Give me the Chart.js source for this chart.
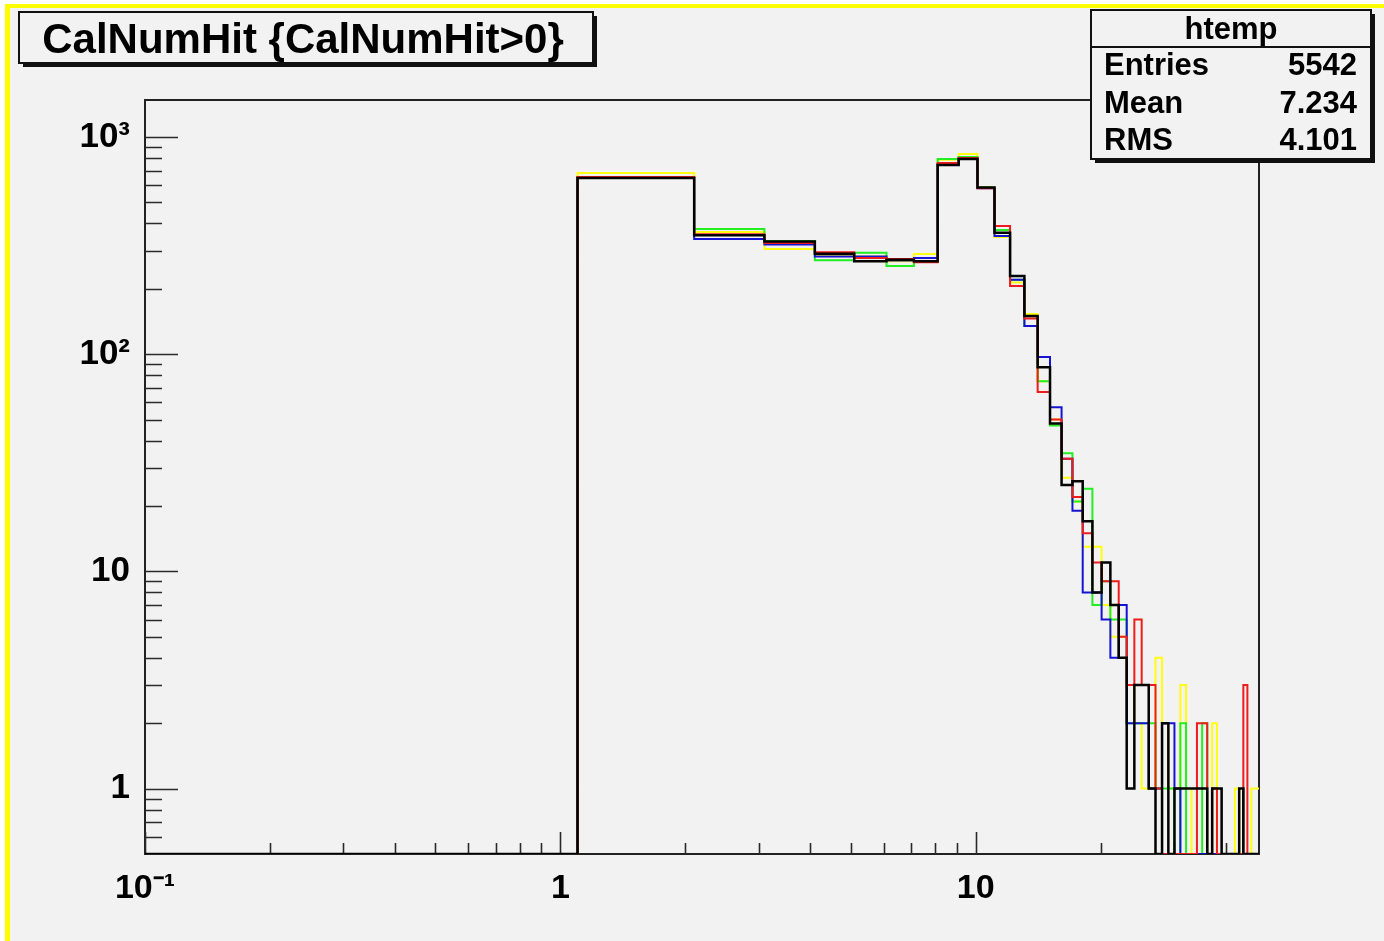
<!DOCTYPE html>
<html>
<head>
<meta charset="utf-8">
<script src="https://cdn.jsdelivr.net/npm/chart.js@4/dist/chart.umd.min.js"></script>
<style>
html,body{margin:0;padding:0;background:#ffffff;}
#wrap{position:absolute;left:0;top:0;width:1384px;height:941px;}
canvas{display:block;}
</style>
</head>
<body>
<div id="wrap"><canvas id="c" width="1384" height="941"></canvas></div>
<script>
// ---- data ----
const binEdges = [0.1, 1.1, 2.1, 3.1, 4.1, 5.1, 6.1, 7.1, 8.1, 9.1, 10.1, 11.1, 12.1, 13.1, 14.1, 15.1,
  16.1, 17.1, 18.1, 19.1, 20.1, 21.1, 22.1, 23.1, 24.1, 25.1, 26.1, 27.1, 28.1, 29.1, 30.1, 31.1, 32.1,
  33.1, 34.1, 35.1, 36.1, 37.1, 38.1, 39.1, 40.1, 41.1, 42.1, 43.1, 44.1, 45.1, 46.1, 47.1, 48.1];

const blackCounts = [0, 648, 353, 330, 290, 268, 272, 268, 743, 792, 585, 362, 229, 150, 87, 48, 25, 26, 17, 8,
  11, 7, 4, 1, 3, 3, 1, 0, 2, 0, 1, 1, 1, 1, 1, 1, 0, 1, 1, 0, 0, 0, 0, 1, 0, 0, 0, 0];
const redCounts = [0, 655, 357, 325, 295, 277, 274, 265, 759, 800, 580, 389, 206, 146, 67, 50, 33, 22, 15, 11,
  9, 9, 5, 3, 6, 3, 3, 1, 0, 0, 0, 0, 0, 0, 2, 2, 0, 1, 0, 0, 0, 0, 0, 0, 3, 0, 0, 0];
const blueCounts = [0, 650, 339, 320, 282, 282, 270, 277, 750, 795, 580, 350, 220, 135, 97, 57, 33, 19, 8, 8,
  6, 4, 7, 2, 2, 2, 1, 1, 2, 2, 1, 0, 0, 0, 0, 0, 0, 0, 0, 0, 0, 0, 0, 0, 0, 0, 0, 0];
const greenCounts = [0, 654, 377, 332, 271, 293, 255, 268, 792, 808, 585, 373, 220, 135, 75, 47, 35, 21, 24, 7,
  9, 6, 6, 2, 2, 2, 2, 1, 1, 1, 0, 2, 0, 0, 0, 2, 0, 0, 0, 0, 0, 0, 0, 0, 0, 0, 0, 0];
const yellowCounts = [0, 683, 365, 305, 285, 282, 268, 289, 785, 835, 588, 346, 214, 153, 75, 50, 27, 21, 13, 13,
  7, 5, 5, 3, 2, 1, 1, 4, 2, 1, 1, 3, 1, 0, 0, 0, 0, 2, 0, 0, 0, 0, 1, 0, 0, 0, 1, 1];

const xTickValues = [0.1, 1, 10];
const xTickLabels = ['10\u207B\u00B9', '1', '10'];
const yTickValues = [1, 10, 100, 1000];
const yTickLabels = ['1', '10', '10\u00B2', '10\u00B3'];

const titleText = 'CalNumHit {CalNumHit>0}';
const statsTitle = 'htemp';
const statsNames = ['Entries', 'Mean', 'RMS'];
const statsValues = ['5542', '7.234', '4.101'];

// ---- settings ----
const X_MIN = 0.1, X_MAX = 48.1, Y_MIN = 0.5, Y_MAX = 1480;
const W = 1384, H = 941;
const FONT = '"Liberation Sans", Arial, Helvetica, sans-serif';

function histPoints(counts) {
  return binEdges.map((e, i) => {
    const c = i < counts.length ? counts[i] : counts[counts.length - 1];
    return { x: e, y: c > 0 ? c : Y_MIN };
  });
}

function ds(label, counts, color, width) {
  return {
    label: label,
    data: histPoints(counts),
    borderColor: color,
    backgroundColor: color,
    borderWidth: width,
    pointRadius: 0,
    pointHoverRadius: 0,
    fill: false,
    stepped: true,
    tension: 0
  };
}

function minorValues(lo, hi) {
  const out = [];
  for (let d = -2; d <= 4; d++) {
    const base = Math.pow(10, d);
    for (let m = 2; m <= 9; m++) {
      const v = +(m * base).toPrecision(6);
      if (v > lo && v < hi) out.push(v);
    }
  }
  return out;
}

const rootPlugin = {
  id: 'rootDeco',
  beforeDraw(chart) {
    const ctx = chart.ctx;
    ctx.save();
    ctx.fillStyle = '#ffffff';
    ctx.fillRect(0, 0, W, H);
    ctx.fillStyle = '#f2f2f2';
    ctx.fillRect(5, 4, W - 5, H - 4);
    ctx.fillStyle = '#ffff00';
    ctx.fillRect(5, 4, W - 5, 4);
    ctx.fillRect(5, 4, 5, H - 4);
    ctx.restore();
  },
  beforeDatasetsDraw(chart) {
    const ctx = chart.ctx;
    const a = chart.chartArea;
    const xs = chart.scales.x, ys = chart.scales.y;
    ctx.save();
    ctx.strokeStyle = '#222222';
    ctx.lineWidth = 2;
    ctx.strokeRect(a.left, a.top, a.right - a.left, a.bottom - a.top);
    ctx.lineWidth = 1.6;
    ctx.strokeStyle = '#2a2a2a';
    ctx.beginPath();
    yTickValues.forEach(v => {
      const p = Math.round(ys.getPixelForValue(v)) + 0.5;
      ctx.moveTo(a.left, p); ctx.lineTo(a.left + 33, p);
    });
    minorValues(Y_MIN, Y_MAX).forEach(v => {
      const p = Math.round(ys.getPixelForValue(v)) + 0.5;
      ctx.moveTo(a.left, p); ctx.lineTo(a.left + 17, p);
    });
    xTickValues.forEach(v => {
      const p = Math.round(xs.getPixelForValue(v)) + 0.5;
      ctx.moveTo(p, a.bottom); ctx.lineTo(p, a.bottom - 22);
    });
    minorValues(X_MIN, 45).forEach(v => {
      const p = Math.round(xs.getPixelForValue(v)) + 0.5;
      ctx.moveTo(p, a.bottom); ctx.lineTo(p, a.bottom - 11);
    });
    ctx.stroke();
    ctx.restore();
  },
  afterDraw(chart) {
    const ctx = chart.ctx;
    ctx.save();
    // title box
    const tb = { l: 19, t: 12, r: 593, b: 63 };
    ctx.fillStyle = '#111111';
    ctx.fillRect(tb.l + 4, tb.t + 4, tb.r - tb.l, tb.b - tb.t);
    ctx.fillStyle = '#f2f2f2';
    ctx.fillRect(tb.l, tb.t, tb.r - tb.l, tb.b - tb.t);
    ctx.strokeStyle = '#111111';
    ctx.lineWidth = 2;
    ctx.strokeRect(tb.l, tb.t, tb.r - tb.l, tb.b - tb.t);
    ctx.fillStyle = '#000000';
    ctx.font = 'bold 42px ' + FONT;
    ctx.textAlign = 'center';
    ctx.textBaseline = 'alphabetic';
    ctx.fillText(titleText, (tb.l + tb.r) / 2 - 3, 53);

    // stats box
    const sb = { l: 1091, t: 10, r: 1371, b: 159 };
    ctx.fillStyle = '#111111';
    ctx.fillRect(sb.l + 4, sb.t + 4, sb.r - sb.l, sb.b - sb.t);
    ctx.fillStyle = '#f2f2f2';
    ctx.fillRect(sb.l, sb.t, sb.r - sb.l, sb.b - sb.t);
    ctx.strokeStyle = '#111111';
    ctx.lineWidth = 2;
    ctx.strokeRect(sb.l, sb.t, sb.r - sb.l, sb.b - sb.t);
    ctx.beginPath();
    ctx.moveTo(sb.l, 47); ctx.lineTo(sb.r, 47);
    ctx.stroke();
    ctx.fillStyle = '#000000';
    ctx.font = 'bold 31px ' + FONT;
    ctx.textAlign = 'center';
    ctx.fillText(statsTitle, (sb.l + sb.r) / 2, 39);
    const rowsY = [75, 113, 150];
    statsNames.forEach((n, i) => {
      ctx.textAlign = 'left';
      ctx.fillText(n, 1104, rowsY[i]);
      ctx.textAlign = 'right';
      ctx.fillText(statsValues[i], 1357, rowsY[i]);
    });
    ctx.restore();
  }
};

const chart = new Chart(document.getElementById('c'), {
  type: 'line',
  data: {
    datasets: [
      ds('black', blackCounts, '#000000', 2.5),
      ds('red', redCounts, '#ee1c1c', 2),
      ds('blue', blueCounts, '#1414d2', 2),
      ds('green', greenCounts, '#22ee22', 2),
      ds('yellow', yellowCounts, '#ffff10', 2)
    ]
  },
  options: {
    responsive: false,
    animation: false,
    events: [],
    layout: { padding: { top: 100, right: 125, left: 0, bottom: 0 } },
    plugins: { legend: { display: false }, title: { display: false }, tooltip: { enabled: false } },
    scales: {
      x: {
        type: 'logarithmic',
        position: 'bottom',
        min: X_MIN,
        max: X_MAX,
        grid: { display: false, drawTicks: false },
        border: { display: false },
        afterBuildTicks: (scale) => { scale.ticks = xTickValues.map(v => ({ value: v })); },
        afterFit: (scale) => { scale.height = 87; },
        ticks: {
          autoSkip: false,
          maxRotation: 0,
          padding: 14,
          color: '#000000',
          font: { family: FONT, size: 34, weight: 'bold' },
          callback: (v) => { const i = xTickValues.indexOf(v); return i >= 0 ? xTickLabels[i] : ''; }
        }
      },
      y: {
        type: 'logarithmic',
        position: 'left',
        min: Y_MIN,
        max: Y_MAX,
        grid: { display: false, drawTicks: false },
        border: { display: false },
        afterBuildTicks: (scale) => { scale.ticks = yTickValues.map(v => ({ value: v })); },
        afterFit: (scale) => { scale.width = 145; },
        ticks: {
          autoSkip: false,
          padding: 15,
          color: '#000000',
          font: { family: FONT, size: 35, weight: 'bold' },
          callback: (v) => { const i = yTickValues.indexOf(v); return i >= 0 ? yTickLabels[i] : ''; }
        }
      }
    }
  },
  plugins: [rootPlugin]
});
</script>
</body>
</html>
